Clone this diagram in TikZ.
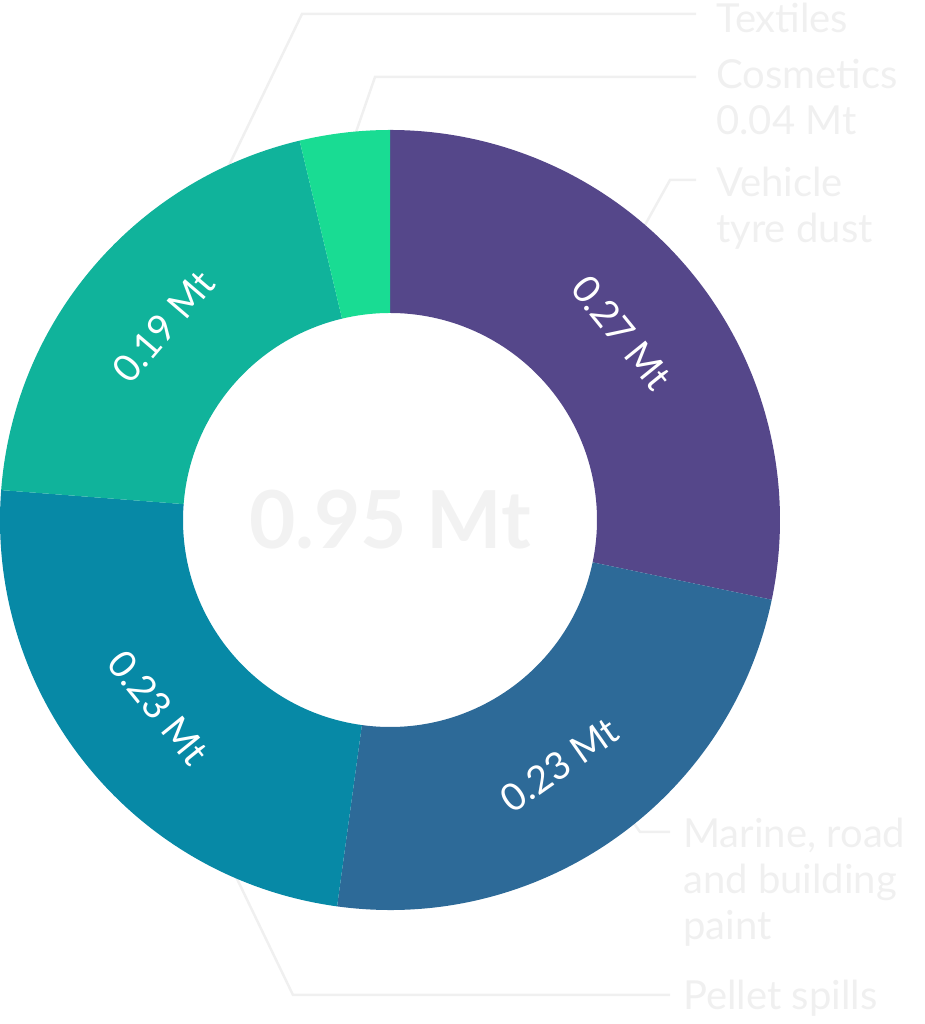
\documentclass[tikz,border=0pt]{standalone}
\usepackage{fontspec}
\setmainfont{Lato}
\usetikzlibrary{calc}
\definecolor{cpur}{HTML}{55478A}
\definecolor{cblu}{HTML}{2D6A98}
\definecolor{ctb}{HTML}{0789A6}
\definecolor{cteal}{HTML}{10B39B}
\definecolor{cgrn}{HTML}{19DC93}
\definecolor{clite}{HTML}{F0F0F0}
\definecolor{ctot}{HTML}{F2F2F2}
\begin{document}
\begin{tikzpicture}[x=1pt,y=1pt,
  leg/.style={anchor=north west,align=left,text=clite,font=\fontsize{40}{46}\selectfont,inner sep=0pt},
  lead/.style={draw=clite,line width=2.5pt},
  seg/.style={text=white,font=\fontsize{38}{40}\selectfont}]
\useasboundingbox (0,0) rectangle (925,1024);
\coordinate (c) at (390,504);
% leader lines (behind chart)
\coordinate (t1) at (302,1010); \coordinate (t2) at (696,1010); \coordinate (t0) at (220,840);
\coordinate (k1) at (375,947); \coordinate (k2) at (696,947); \coordinate (k0) at (345,860);
\coordinate (v1) at (670,844); \coordinate (v2) at (696,844); \coordinate (v0) at (640,790);
\coordinate (m1) at (640,192); \coordinate (m2) at (670,192); \coordinate (m0) at (600,250);
\coordinate (p1) at (293,29); \coordinate (p2) at (670,29); \coordinate (p0) at (225,170);
\draw[lead] (t0) -- (t1) -- (t2);
\draw[lead] (k0) -- (k1) -- (k2);
\draw[lead] (v0) -- (v1) -- (v2);
\draw[lead] (m0) -- (m1) -- (m2);
\draw[lead] (p0) -- (p1) -- (p2);
\newcommand{\ringseg}[3]{\fill[#1] ($(c)+(#2:390)$) arc[start angle=#2,end angle=#3,radius=390] -- ($(c)+(#3:207)$) arc[start angle=#3,end angle=#2,radius=207] -- cycle;}
\ringseg{cpur}{90}{-11.8}
\ringseg{cblu}{-11.8}{-97.8}
\ringseg{ctb}{-97.8}{-184.4}
\ringseg{cteal}{-184.4}{-256.6}
\ringseg{cgrn}{-256.6}{-270}
\node[seg,rotate=-51] (s1) at ($(c)+(39:298)$) {0.27 Mt};
\node[seg,rotate=35] (s2) at ($(c)+(-55.3:298)$) {0.23 Mt};
\node[seg,rotate=-51] (s3) at ($(c)+(-141:298)$) {0.23 Mt};
\node[seg,rotate=49.5] (s4) at ($(c)+(139.5:298)$) {0.19 Mt};
\node[text=ctot,font=\fontsize{80}{82}\selectfont\bfseries] (tot) at (c) {0.95 Mt};
\node[leg] (lt) at (716,1021) {Textiles};
\node[leg] (lk) at (716,965) {Cosmetics\\0.04 Mt};
\node[leg] (lv) at (716,857) {Vehicle\\tyre dust};
\node[leg] (lm) at (683,206) {Marine, road\\and building\\paint};
\node[leg] (lp) at (683,44) {Pellet spills};
\end{tikzpicture}
\end{document}
